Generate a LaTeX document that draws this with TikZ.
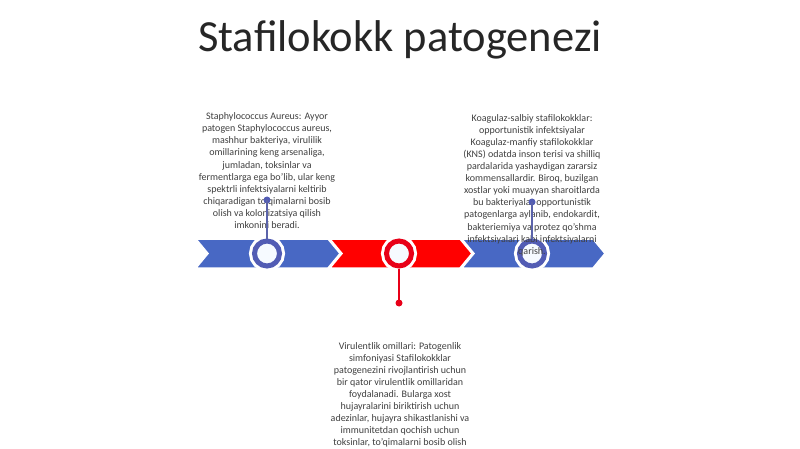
\documentclass[tikz,border=0pt]{standalone}
\usepackage{fontspec}
\setmainfont{Carlito}
\definecolor{chblue}{RGB}{72,104,196}
\definecolor{ringblue}{RGB}{82,92,180}
\definecolor{chred}{RGB}{255,0,0}
\definecolor{ringred}{RGB}{232,0,24}
\definecolor{txt}{RGB}{64,64,64}
\definecolor{inner}{RGB}{246,250,255}
\tikzset{
  chev/.style={draw=white, line width=1.5pt, line join=miter},
  ring/.style={circle, minimum size=25pt, inner sep=0pt, line width=5pt, fill=inner, preaction={draw=white, line width=11pt}},
  body/.style={text=txt, font=\fontsize{10}{12.1}\selectfont, align=center, inner sep=0pt, anchor=north},
  dot/.style={circle, minimum size=7pt, inner sep=0pt},
  conn/.style={line width=1.6pt}
}
\begin{document}
\begin{tikzpicture}[x=1pt,y=-1pt]
\useasboundingbox (0,0) rectangle (800,449);
\fill[white] (0,0) rectangle (800,449);
\node[text=black!85, font=\fontsize{44.5}{50}\selectfont, inner sep=0pt, anchor=base] (title) at (400,52) {Stafilokokk patogenezi};
% chevrons
\path[chev, fill=chblue] (462,239) -- (593,239) -- (605,253.5) -- (593,268) -- (462,268) -- (474,253.5) -- cycle;
\path[chev, fill=chred] (330,239) -- (460,239) -- (472,253.5) -- (460,268) -- (330,268) -- (342,253.5) -- cycle;
\path[chev, fill=chblue] (196,239) -- (328,239) -- (340,253.5) -- (328,268) -- (196,268) -- (208,253.5) -- cycle;
% circles
\node[ring, draw=ringblue] (c1) at (267,253.5) {};
\node[ring, draw=ringred] (c2) at (399,253.5) {};
\node[ring, draw=ringblue] (c3) at (532,253.5) {};
% texts
\node[body] (t1) at (267,112.5) {Staphylococcus Aureus: Ayyor\\patogen Staphylococcus aureus,\\mashhur bakteriya, virulilik\\omillarining keng arsenaliga,\\jumladan, toksinlar va\\fermentlarga ega bo'lib, ular keng\\spektrli infektsiyalarni keltirib\\chiqaradigan to'qimalarni bosib\\olish va kolonizatsiya qilish\\imkonini beradi.};
\node[body] (t3) at (532,114) {Koagulaz-salbiy stafilokokklar:\\opportunistik infektsiyalar\\Koagulaz-manfiy stafilokokklar\\(KNS) odatda inson terisi va shilliq\\pardalarida yashaydigan zararsiz\\kommensallardir. Biroq, buzilgan\\xostlar yoki muayyan sharoitlarda\\bu bakteriyalar opportunistik\\patogenlarga aylanib, endokardit,\\bakteriemiya va protez qo'shma\\infektsiyalari kabi infektsiyalarni\\qarish.};
\node[body, font=\fontsize{10}{12}\selectfont] (t2) at (400,342.5) {Virulentlik omillari: Patogenlik\\simfoniyasi Stafilokokklar\\patogenezini rivojlantirish uchun\\bir qator virulentlik omillaridan\\foydalanadi. Bularga xost\\hujayralarini biriktirish uchun\\adezinlar, hujayra shikastlanishi va\\immunitetdan qochish uchun\\toksinlar, to'qimalarni bosib olish};
% connectors
\node[dot, fill=ringblue] (d1) at (267,200) {};
\node[dot, fill=ringred] (d2) at (399,303) {};
\node[dot, fill=ringblue] (d3) at (532,202) {};
\draw[conn, ringblue!80!gray] (c1.north) -- (d1.center);
\draw[conn, ringred] (c2.south) -- (d2.center);
\draw[conn, ringblue!80!gray] (c3.north) -- (d3.center);
\end{tikzpicture}
\end{document}
